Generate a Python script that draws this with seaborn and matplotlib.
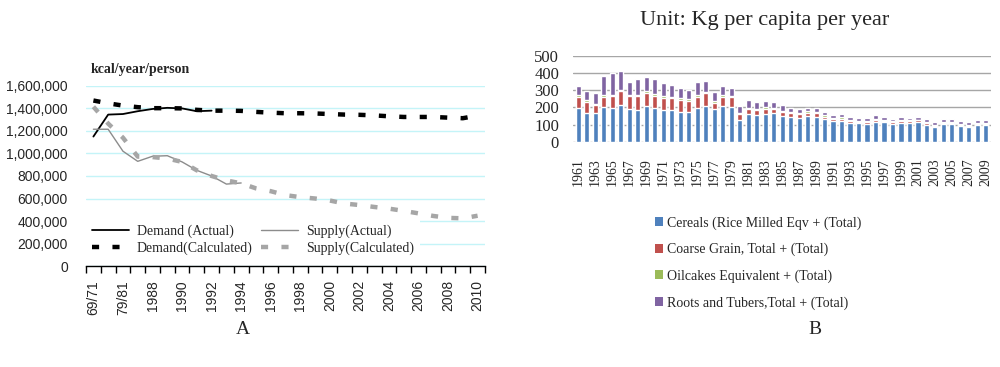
import numpy as np
import pandas as pd
import matplotlib
matplotlib.use("Agg")
import matplotlib.pyplot as plt
import seaborn as sns
from matplotlib.patches import Patch

# ---- panel A: kcal/year/person ----
periods = ["69/71", "74/76", "79/81", "84/86", "1988", "1989", "1990", "1991",
           "1992", "1993", "1994", "1995", "1996", "1997", "1998", "1999", "2000",
           "2001", "2002", "2003", "2004", "2005", "2006", "2007", "2008", "2009", "2010"]
demand_actual = [1150000, 1345000, 1350000, 1375000, 1395000, 1405000, 1400000,
                 1375000, 1380000] + [None] * 18
demand_calc = [1470000, 1445000, 1425000, 1411000, 1402000, 1402000, 1400000,
               1387000, 1380000, 1380000, 1378000, 1369000, 1362000, 1357000,
               1357000, 1355000, 1350000, 1345000, 1343000, 1338000, 1330000,
               1324000, 1324000, 1324000, 1318000, 1313000, 1336000]
supply_actual = [1215000, 1215000, 1020000, 930000, 975000, 980000, 925000,
                 850000, 800000, 728000, 738000] + [None] * 16
supply_calc = [1415000, 1265000, 1140000, 972000, 968000, 955000, 925000,
               850000, 800000, 760000, 735000, 690000, 665000, 630000, 612000,
               600000, 582000, 555000, 542000, 525000, 510000, 490000, 468000,
               445000, 428000, 424000, 447000]

# ---- panel B: kg per capita per year ----
years = ["1961", "1962", "1963", "1964", "1965", "1966", "1967", "1968", "1969",
         "1970", "1971", "1972", "1973", "1974", "1975", "1976", "1977", "1978",
         "1979", "1980", "1981", "1982", "1983", "1984", "1985", "1986", "1987",
         "1988", "1989", "1990", "1991", "1992", "1993", "1994", "1995", "1996",
         "1997", "1998", "1999", "2000", "2001", "2002", "2003", "2004", "2005",
         "2006", "2007", "2008", "2009"]
cereals = [198, 169, 169, 200, 196, 212, 190, 186, 210, 196, 186, 186, 176, 176,
           196, 208, 190, 208, 200, 125, 163, 155, 163, 165, 149, 143, 139, 149,
           143, 133, 120, 120, 108, 108, 106, 114, 114, 106, 112, 108, 116, 100,
           88, 102, 102, 94, 88, 100, 100]
coarse = [65, 64, 43, 63, 73, 82, 79, 83, 76, 73, 71, 71, 69, 61, 67, 74, 37, 55,
          59, 36, 27, 29, 29, 25, 26, 22, 24, 20, 22, 12, 11, 15, 10, 8, 10, 11,
          8, 8, 8, 10, 8, 8, 6, 6, 6, 6, 6, 6, 6]
oilcakes = [10, 8, 10, 10, 6, 8, 6, 6, 8, 11, 10, 6, 8, 10, 10, 8, 8, 10, 10, 8,
            8, 8, 8, 8, 5, 6, 6, 9, 6, 8, 6, 8, 6, 6, 6, 6, 5, 6, 5, 6, 5, 6, 6,
            6, 6, 6, 6, 6, 6]
roots = [52, 55, 62, 113, 125, 112, 76, 90, 86, 85, 74, 70, 63, 55, 78, 65, 53,
         52, 47, 39, 45, 37, 37, 35, 34, 27, 21, 20, 27, 22, 20, 20, 19, 17, 17,
         22, 16, 15, 18, 17, 14, 17, 14, 17, 17, 12, 14, 13, 13]
series_names = ["Cereals (Rice Milled Eqv + (Total)", "Coarse Grain, Total + (Total)",
                "Oilcakes Equivalent + (Total)", "Roots and Tubers,Total + (Total)"]
series_colors = ["#4f81bd", "#c0504d", "#9bbb59", "#8064a2"]

sns.set_style("white")
plt.rcParams["font.family"] = ["Liberation Serif", "DejaVu Serif"]

fig = plt.figure(figsize=(10, 3.67), dpi=100)

# ---------------- panel A ----------------
ax1 = fig.add_axes([0.086, 0.275, 0.399, 0.491])
lines = pd.DataFrame({
    "pos": np.arange(len(periods)),
    "da": pd.array(demand_actual, dtype="Float64"),
    "dc": demand_calc,
    "sa": pd.array(supply_actual, dtype="Float64"),
    "sc": supply_calc,
})
lines = lines.astype({"da": float, "sa": float})

sns.lineplot(data=lines, x="pos", y="da", color="black", lw=1.3,
             label="Demand (Actual)", ax=ax1)
sns.lineplot(data=lines, x="pos", y="dc", color="black", lw=3.2,
             linestyle=(0, (1.6, 3.0)), label="Demand(Calculated)", ax=ax1)
sns.lineplot(data=lines, x="pos", y="sa", color="#8c8c8c", lw=1.0,
             label="Supply(Actual)", ax=ax1)
sns.lineplot(data=lines, x="pos", y="sc", color="#a6a6a6", lw=3.2,
             linestyle=(0, (1.6, 3.0)), label="Supply(Calculated)", ax=ax1)

ax1.set_xlim(-0.5, len(periods) - 0.5)
ax1.set_ylim(0, 1600000)
ax1.set_yticks(np.arange(0, 1600001, 200000))
ax1.set_yticklabels([f"{v:,}" for v in range(0, 1600001, 200000)],
                    family="Liberation Sans", fontsize=10)
ax1.yaxis.grid(True, color="#c4f4f8", lw=1)
ax1.xaxis.grid(False)
ax1.set_axisbelow(True)
ax1.tick_params(axis="y", length=0, pad=13)
ax1.set_xticks(np.arange(0, len(periods), 2))
ax1.set_xticklabels(periods[::2], rotation=90, family="Liberation Sans", fontsize=10)
ax1.set_xticks(np.arange(-0.5, len(periods), 1), minor=True)
ax1.tick_params(axis="x", which="major", length=0, pad=10)
ax1.tick_params(axis="x", which="minor", length=5, width=1, color="black",
                direction="out", bottom=True)
for s in ["left", "top", "right"]:
    ax1.spines[s].set_visible(False)
ax1.spines["bottom"].set_color("black")
ax1.spines["bottom"].set_linewidth(1)
ax1.set_xlabel("")
ax1.set_ylabel("")

ax1.legend(ncol=2, loc="lower left", bbox_to_anchor=(0.0, 0.03),
           borderaxespad=0, frameon=True, facecolor="white", edgecolor="none",
           framealpha=1, fancybox=False, fontsize=10, handlelength=2.7,
           handletextpad=0.55, columnspacing=0.6, labelspacing=0.25,
           borderpad=0.4)

fig.text(0.091, 0.81, "kcal/year/person", fontsize=10, fontweight="bold",
         va="center", ha="left")
fig.text(0.243, 0.101, "A", fontsize=14, ha="center", va="center")

# ---------------- panel B ----------------
ax2 = fig.add_axes([0.573, 0.614, 0.418, 0.233])
bars = pd.DataFrame({"year": years, "cereals": cereals, "coarse": coarse,
                     "oilcakes": oilcakes, "roots": roots})
bars["c1"] = bars["cereals"]
bars["c2"] = bars["c1"] + bars["coarse"]
bars["c3"] = bars["c2"] + bars["oilcakes"]
bars["c4"] = bars["c3"] + bars["roots"]

for col, colr in zip(["c4", "c3", "c2", "c1"], series_colors[::-1]):
    sns.barplot(data=bars, x="year", y=col, color=colr, width=0.6,
                saturation=1, ax=ax2)

ax2.set_xlim(-0.62, len(years) - 0.4)
ax2.set_ylim(0, 500)
ax2.set_yticks(np.arange(0, 501, 100))
ax2.set_yticklabels([str(v) for v in range(0, 501, 100)], fontsize=12)
ax2.yaxis.grid(True, color="#a6a6a6", lw=1)
ax2.set_axisbelow(True)
ax2.tick_params(axis="y", length=0, pad=10)
ax2.set_xticks(np.arange(0, len(years), 2))
ax2.set_xticklabels(years[::2], rotation=90, fontsize=10)
ax2.tick_params(axis="x", length=0, pad=12)
for s in ["left", "top", "right", "bottom"]:
    ax2.spines[s].set_visible(False)
ax2.set_xlabel("")
ax2.set_ylabel("")

handles = [Patch(facecolor=c, edgecolor="none") for c in series_colors]
fig.legend(handles, series_names, loc="upper left", bbox_to_anchor=(0.648, 0.43),
           frameon=False, fontsize=10, handlelength=0.6, handleheight=0.6,
           handletextpad=0.3, labelspacing=0.95, borderpad=0)

fig.text(0.765, 0.945, "Unit: Kg per capita per year", fontsize=16,
         ha="center", va="center")
fig.text(0.815, 0.101, "B", fontsize=14, ha="center", va="center")

fig.savefig("out.png", dpi=100)
